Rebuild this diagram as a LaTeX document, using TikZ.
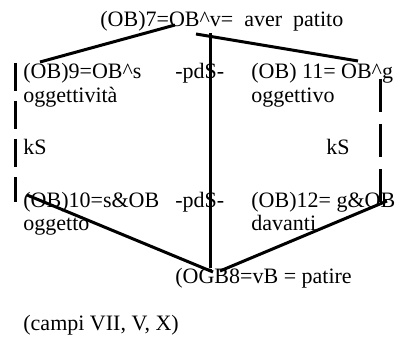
\documentclass[tikz,border=0pt]{standalone}
\usepackage{fontspec}
\setmainfont{Liberation Serif}

\begin{document}
\begin{tikzpicture}[
    x=0.5pt, y=-0.5pt,
    lbl/.style   = {anchor=base west, inner sep=0pt, font=\fontsize{11}{13}\selectfont},
    link/.style  = {line width=1.5pt},
    dlinkl/.style = {line width=1.5pt, dash pattern=on 14pt off 5pt},
    dlinkr/.style = {line width=1.5pt, dash pattern=on 16.5pt off 6pt},
]
\useasboundingbox (0,0) rectangle (396,342);

%% Top node
\node[lbl] (ob7) at (100,27) {(OB)7=OB\textasciicircum v=\ \ aver\ \ patito};

%% Upper row
\node[lbl] (ob9)  at (23,79)  {(OB)9=OB\textasciicircum s};
\node[lbl] (ob9t) at (23,103) {oggettività};
\node[lbl] (pd1)  at (175,79) {-pdS-};
\node[lbl] (ob11)  at (251,79)  {(OB) 11= OB\textasciicircum g};
\node[lbl] (ob11t) at (251,103) {oggettivo};

%% Side labels
\node[lbl] (ksl) at (23,155)  {kS};
\node[lbl] (ksr) at (326,155) {kS};

%% Lower row
\node[lbl] (ob10)  at (23,207)  {(OB)10=s\&OB};
\node[lbl] (ob10t) at (23,230)  {oggetto};
\node[lbl] (pd2)   at (175,207) {-pdS-};
\node[lbl] (ob12)  at (251,207) {(OB)12= g\&OB};
\node[lbl] (ob12t) at (251,230) {davanti};

%% Bottom node
\node[lbl] (ob8) at (175,283) {(OGB8=vB = patire};
\node[lbl] (campi) at (23,330) {(campi VII, V, X)};

%% Line ends
\coordinate (c9)   at (40,62);
\coordinate (c7l)  at (175,25);
\coordinate (c7r)  at (196,34);
\coordinate (c11)  at (358,61);
\coordinate (c7v)  at (210,33);
\coordinate (c8v)  at (210,268);
\coordinate (c10)  at (27,195);
\coordinate (c8l)  at (213,272);
\coordinate (c8r)  at (220,271);
\coordinate (c12)  at (387,201);
\coordinate (l9)   at (15,63);
\coordinate (l10)  at (15,202);
\coordinate (r11)  at (380,79);
\coordinate (r12)  at (380,203);

%% Solid links
\draw[link] (c9) -- (c7l);
\draw[link] (c7r) -- (c11);
\draw[link] (c7v) -- (c8v);
\draw[link] (c10) -- (c8l);
\draw[link] (c8r) -- (c12);

%% Dashed sides
\draw[dlinkl] (l9) -- (l10);
\draw[dlinkr] (r11) -- (r12);

\end{tikzpicture}
\end{document}
